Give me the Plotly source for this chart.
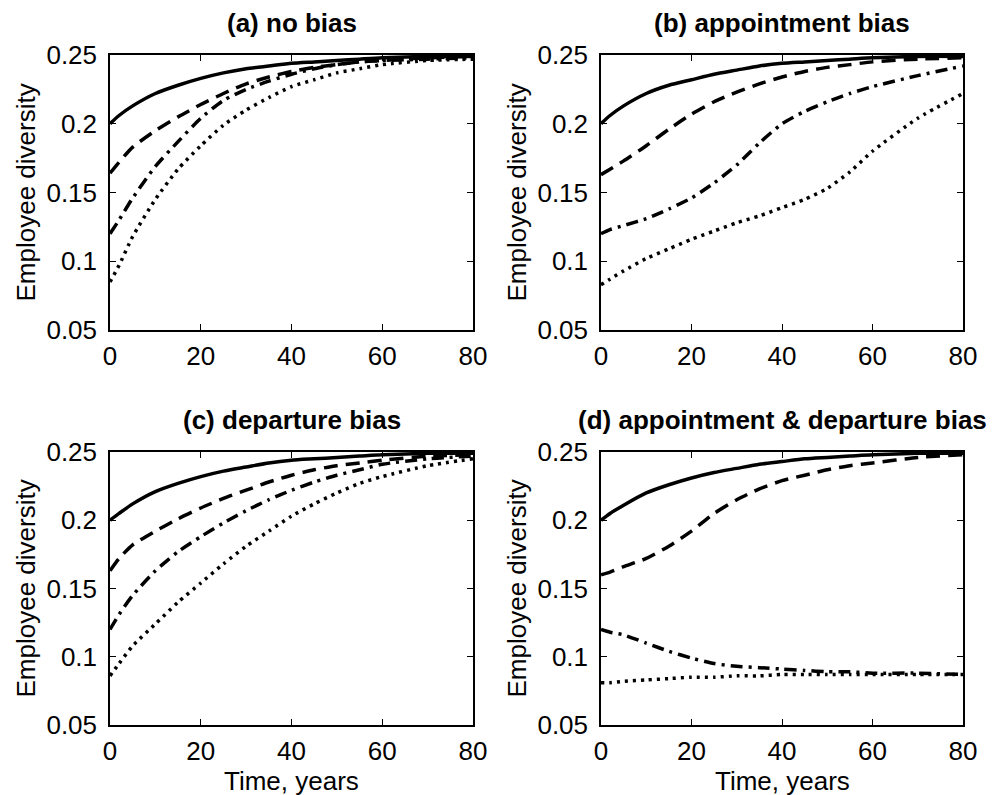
import plotly.graph_objects as go

# ---------------- data ----------------
years = [0, 2, 5, 10, 15, 20, 25, 30, 35, 40, 45, 50, 55, 60, 70, 80]

panel_titles = ["(a) no bias", "(b) appointment bias",
                "(c) departure bias", "(d) appointment & departure bias"]

a_solid   = [0.200, 0.206, 0.213, 0.222, 0.228, 0.233, 0.237, 0.240, 0.242, 0.244, 0.245, 0.246, 0.247, 0.248, 0.249, 0.249]
a_dashed  = [0.164, 0.172, 0.183, 0.195, 0.205, 0.214, 0.222, 0.229, 0.234, 0.238, 0.241, 0.243, 0.245, 0.246, 0.248, 0.249]
a_dashdot = [0.120, 0.130, 0.146, 0.169, 0.187, 0.204, 0.217, 0.225, 0.231, 0.236, 0.240, 0.243, 0.245, 0.246, 0.247, 0.248]
a_dotted  = [0.085, 0.097, 0.118, 0.145, 0.167, 0.184, 0.199, 0.210, 0.219, 0.227, 0.232, 0.237, 0.240, 0.243, 0.246, 0.247]

b_solid   = [0.200, 0.206, 0.213, 0.222, 0.228, 0.232, 0.236, 0.239, 0.242, 0.244, 0.245, 0.246, 0.247, 0.248, 0.249, 0.249]
b_dashed  = [0.163, 0.167, 0.173, 0.184, 0.196, 0.207, 0.216, 0.223, 0.229, 0.234, 0.238, 0.241, 0.243, 0.245, 0.247, 0.248]
b_dashdot = [0.120, 0.123, 0.126, 0.131, 0.138, 0.146, 0.157, 0.170, 0.186, 0.200, 0.209, 0.216, 0.222, 0.227, 0.235, 0.242]
b_dotted  = [0.083, 0.087, 0.093, 0.102, 0.109, 0.116, 0.122, 0.128, 0.133, 0.139, 0.145, 0.153, 0.165, 0.180, 0.204, 0.222]

c_solid   = [0.200, 0.205, 0.212, 0.221, 0.227, 0.232, 0.236, 0.239, 0.242, 0.244, 0.245, 0.246, 0.247, 0.248, 0.249, 0.249]
c_dashed  = [0.163, 0.172, 0.182, 0.192, 0.201, 0.209, 0.216, 0.222, 0.228, 0.233, 0.237, 0.240, 0.242, 0.244, 0.247, 0.248]
c_dashdot = [0.120, 0.131, 0.145, 0.163, 0.177, 0.188, 0.198, 0.207, 0.215, 0.222, 0.228, 0.233, 0.237, 0.241, 0.245, 0.247]
c_dotted  = [0.086, 0.095, 0.108, 0.124, 0.140, 0.154, 0.168, 0.181, 0.192, 0.203, 0.212, 0.220, 0.227, 0.232, 0.240, 0.245]

d_solid   = [0.200, 0.205, 0.211, 0.220, 0.226, 0.231, 0.235, 0.238, 0.241, 0.243, 0.245, 0.246, 0.247, 0.248, 0.249, 0.249]
d_dashed  = [0.160, 0.162, 0.166, 0.172, 0.181, 0.192, 0.205, 0.215, 0.223, 0.229, 0.233, 0.237, 0.240, 0.242, 0.246, 0.248]
d_dashdot = [0.120, 0.118, 0.116, 0.110, 0.104, 0.099, 0.095, 0.093, 0.092, 0.091, 0.090, 0.089, 0.089, 0.088, 0.088, 0.087]
d_dotted  = [0.081, 0.081, 0.082, 0.083, 0.084, 0.085, 0.085, 0.086, 0.086, 0.087, 0.087, 0.087, 0.087, 0.087, 0.087, 0.087]

x_ticks = [0, 20, 40, 60, 80]
x_ticktext = ["0", "20", "40", "60", "80"]
y_ticks = [0.05, 0.1, 0.15, 0.2, 0.25]
y_ticktext = ["0.05", "0.1", "0.15", "0.2", "0.25"]

x_label = "Time, years"
y_label = "Employee diversity"

panels = [
    [a_solid, a_dashed, a_dashdot, a_dotted],
    [b_solid, b_dashed, b_dashdot, b_dotted],
    [c_solid, c_dashed, c_dashdot, c_dotted],
    [d_solid, d_dashed, d_dashdot, d_dotted],
]

# ---------------- styling / layout ----------------
W, H = 992, 795
FONT = "Liberation Sans, Arial, Helvetica, sans-serif"
FS = 26

dash_styles = ["solid", "14px,8px", "12px,6px,3px,6px", "3px,5px"]

# pixel boxes of each plot area (left, right, top, bottom)
boxes = [
    (110, 473, 55, 330),
    (601, 963, 55, 330),
    (110, 473, 452, 725),
    (601, 963, 452, 725),
]

fig = go.Figure()
layout_axes = {}
annotations = []

for i, (series, box) in enumerate(zip(panels, boxes)):
    n = i + 1
    xa = "x" if n == 1 else f"x{n}"
    ya = "y" if n == 1 else f"y{n}"
    for vals, dash in zip(series, dash_styles):
        fig.add_trace(go.Scatter(
            x=years, y=vals, mode="lines",
            line=dict(color="black", width=3.5, dash=dash, shape="spline", smoothing=0.6),
            xaxis=xa, yaxis=ya, showlegend=False, hoverinfo="skip",
        ))
    l, r, t, b = box
    xdom = [l / W, r / W]
    ydom = [1 - b / H, 1 - t / H]
    common = dict(showline=True, linecolor="black", linewidth=1.5, mirror="ticks",
                  ticks="inside", ticklen=6, tickwidth=1.2, tickcolor="black",
                  showgrid=False, zeroline=False, automargin=False,
                  tickfont=dict(family=FONT, size=FS, color="black"))
    layout_axes["xaxis" if n == 1 else f"xaxis{n}"] = dict(
        domain=xdom, range=[0, 80], tickvals=x_ticks, ticktext=x_ticktext,
        anchor=ya, ticklabelstandoff=2, **common)
    layout_axes["yaxis" if n == 1 else f"yaxis{n}"] = dict(
        domain=ydom, range=[0.05, 0.25], tickvals=y_ticks, ticktext=y_ticktext,
        anchor=xa, ticklabelstandoff=6, **common)

    # panel title
    annotations.append(dict(
        text=f"<b>{panel_titles[i]}</b>", x=(l + r) / 2 / W, y=1 - (t - 32) / H,
        xref="paper", yref="paper", showarrow=False, xanchor="center", yanchor="middle",
        font=dict(family=FONT, size=FS, color="black")))
    # y label
    annotations.append(dict(
        text=y_label, x=(l - 85) / W, y=1 - (t + b) / 2 / H,
        xref="paper", yref="paper", showarrow=False, textangle=-90,
        xanchor="center", yanchor="middle",
        font=dict(family=FONT, size=FS, color="black")))
    # x label for bottom row
    if n >= 3:
        annotations.append(dict(
            text=x_label, x=(l + r) / 2 / W, y=1 - (b + 56) / H,
            xref="paper", yref="paper", showarrow=False,
            xanchor="center", yanchor="middle",
            font=dict(family=FONT, size=FS, color="black")))

fig.update_layout(
    width=W, height=H,
    margin=dict(l=0, r=0, t=0, b=0),
    paper_bgcolor="white", plot_bgcolor="white",
    annotations=annotations,
    **layout_axes,
)

# remove the default page margin so the figure fills the window exactly
fig.write_html("out.html", config={"displayModeBar": False},
               post_script="document.body.style.margin='0';")
